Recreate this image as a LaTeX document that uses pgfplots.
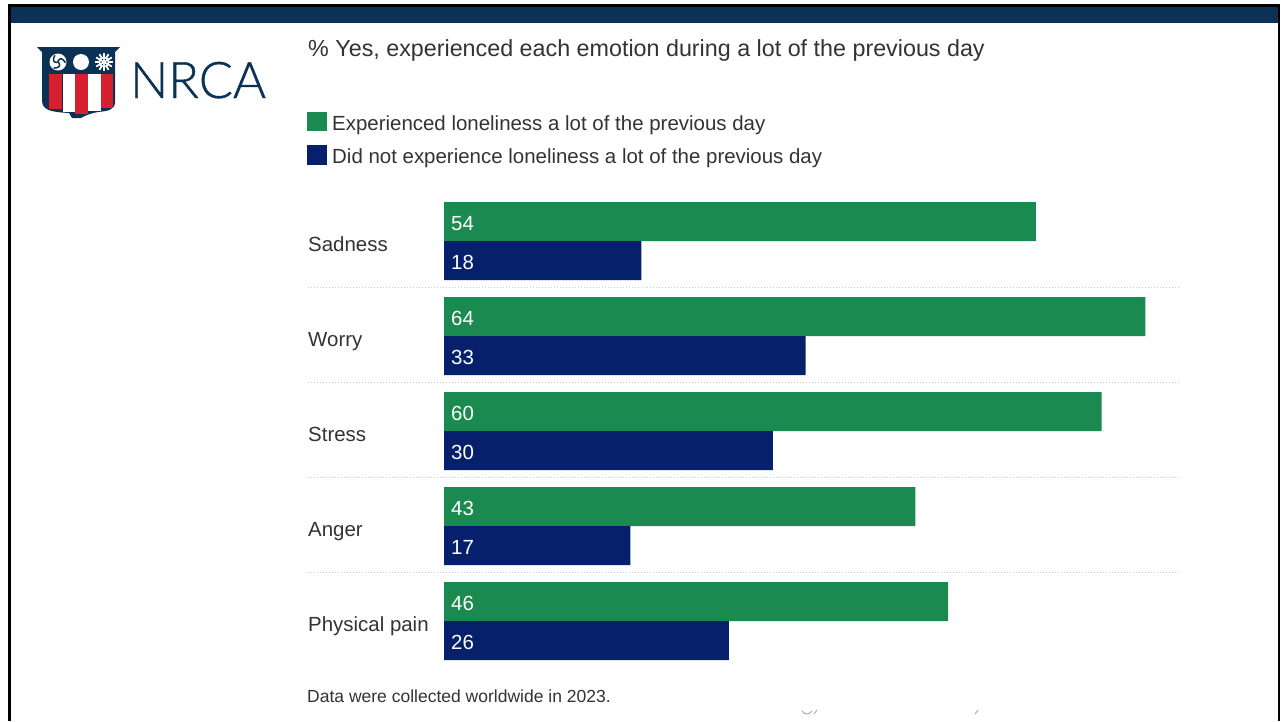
\documentclass[border=0pt]{standalone}
\usepackage{pgfplots}
\pgfplotsset{compat=1.18}
\usepackage{pgfplotstable}
\usetikzlibrary{calc}
\usepackage{fontspec}
\setmainfont{Liberation Sans}
\newfontfamily\logofont[FakeBold=0.7]{Lato Light}
\definecolor{navyband}{HTML}{0B3155}
\definecolor{greenbar}{HTML}{1B8A50}
\definecolor{bluebar}{HTML}{06206B}
\definecolor{txt}{HTML}{333333}
\definecolor{logored}{HTML}{D4202F}
\pgfplotstableread{
y lonely notlonely
4 54 18
3 64 33
2 60 30
1 43 17
0 46 26
}\datatable
\begin{document}
\begin{tikzpicture}[x=1pt,y=-1pt]
\path[fill=white] (0,0) rectangle (1288,721);
\fill[black] (8,4) rectangle (1280,721);
\fill[white] (11,7) rectangle (1278,721);
\fill[navyband] (11,7) rectangle (1278,23);
% logo
\begin{scope}
\fill[navyband] (37,47) -- (120,47) -- (115,52) -- (115,102) .. controls (115,110) and (108,111) .. (98,112) .. controls (92,113) and (86,115) .. (81,118) -- (72,118) -- (69,113) .. controls (50,112) and (42,110) .. (42,100) -- (42,52) -- cycle;
\fill[logored] (49,74) rectangle (62,109);
\fill[white] (63,74) rectangle (75,112);
\fill[logored] (75,74) rectangle (88,114);
\fill[white] (88,74) rectangle (101,111);
\fill[logored] (101,74) rectangle (113,108);
\fill[white] (81,62) circle (8);
\fill[white] (58,62) circle (8.5);
\foreach \a in {30,150,270}{\draw[navyband,line width=1.5] ($(58,62)+(\a:1)$) .. controls ($(58,62)+(\a+25:5)$) and ($(58,62)+(\a+50:6)$) .. ($(58,62)+(\a+95:7.5)$);}
\fill[navyband] (58,62) circle (1.3);
\foreach \a in {0,30,...,150}{\draw[white,line width=1.8] ($(104,62)+(\a:9)$) -- ($(104,62)+(\a+180:9)$);}
\fill[white] (104,62) circle (5.5);
\foreach \a in {0,60,...,300}{\fill[navyband] ($(104,62)+(\a:3)$) circle (0.8);}
\end{scope}
\node[anchor=base west,inner sep=0,text=navyband,font=\logofont\fontsize{50.5}{52}\selectfont] at (130,98) {NRCA};
% header text
\node[anchor=base west,inner sep=0,text=txt,font=\fontsize{23.3}{26}\selectfont] at (308,56) {\% Yes, experienced each emotion during a lot of the previous day};
\fill[greenbar] (307,112) rectangle (327,131);
\fill[bluebar] (307,145) rectangle (327,165);
\node[anchor=base west,inner sep=0,text=txt,font=\fontsize{20.45}{24}\selectfont] at (332,130) {Experienced loneliness a lot of the previous day};
\node[anchor=base west,inner sep=0,text=txt,font=\fontsize{20.45}{24}\selectfont] at (332,163) {Did not experience loneliness a lot of the previous day};
\node[anchor=base west,inner sep=0,text=txt,font=\fontsize{17.5}{20}\selectfont] at (307,702) {Data were collected worldwide in 2023.};
% scan residue at the lower edge
\draw[gray!70,line width=0.9] (802,711) .. controls (805,715) and (809,715) .. (812,711);
\draw[gray!70,line width=0.9] (814,714) -- (817,710);
\draw[gray!70,line width=0.9] (975,714) -- (978,710);
% separators reaching left of the axis
\foreach \yy in {287.5,382.5,477.5,572.5}{\draw[gray!40,line width=1pt,dotted] (308,\yy) -- (1179,\yy);}
\begin{axis}[
  at={(444pt,-668.5pt)},anchor=south west,
  y=95pt,x=10.96pt,
  scale only axis,
  xmin=0,xmax=67.06,ymin=-0.5,ymax=4.5,
  axis line style={draw=none},
  xtick=\empty,
  ytick={0,1,2,3,4},
  yticklabels={Physical pain,Anger,Stress,Worry,Sadness},
  major tick length=0pt,
  clip=false,
  /pgf/number format/assume math mode=true,
  yticklabel style={anchor=base west,inner sep=0,text=txt,font=\fontsize{20.45}{24}\selectfont,xshift=-136pt,yshift=-10pt},
  xbar=0pt,
  bar width=39pt,
  nodes near coords,
  point meta=x,
  visualization depends on={x \as \barval},
  every node near coord/.append style={
    anchor=west,inner sep=0,text=white,font=\fontsize{20.45}{24}\selectfont,
    xshift={-\barval*10.96pt+7pt},yshift=-2pt},
]
\addplot[fill=greenbar,draw=none,bar shift=19.5pt] table[x=lonely,y=y]{\datatable};
\addplot[fill=bluebar,draw=none,bar shift=-19.5pt] table[x=notlonely,y=y]{\datatable};
\end{axis}
\end{tikzpicture}
\end{document}
